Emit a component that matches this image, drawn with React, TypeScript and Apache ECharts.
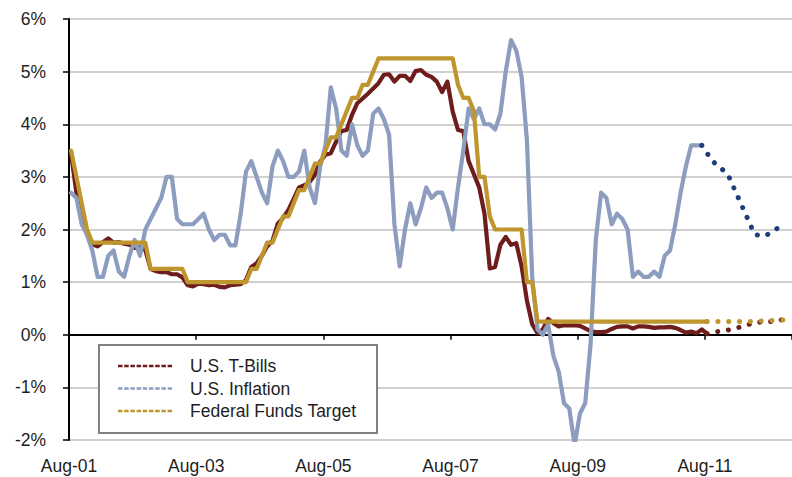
import React, { useEffect, useRef } from "react";
import * as echarts from "echarts";

// Monthly data, first value = Aug 2001 (month index 0)
const tickLabels = ["Aug-01", "Aug-03", "Aug-05", "Aug-07", "Aug-09", "Aug-11"];

const tBills = [
  3.44, 2.69, 2.2, 1.91, 1.72, // 2001 Aug-Dec
  1.68, 1.76, 1.83, 1.75, 1.76, 1.73, 1.71, 1.65, 1.66, 1.61, 1.25, 1.21, // 2002
  1.19, 1.19, 1.15, 1.15, 1.09, 0.94, 0.92, 0.97, 0.96, 0.94, 0.95, 0.91, // 2003
  0.9, 0.94, 0.95, 0.96, 1.04, 1.29, 1.36, 1.5, 1.68, 1.79, 2.11, 2.22, // 2004
  2.37, 2.58, 2.8, 2.84, 2.9, 3.04, 3.29, 3.42, 3.45, 3.67, 3.87, 3.89, // 2005
  4.18, 4.4, 4.49, 4.58, 4.68, 4.78, 4.94, 4.95, 4.81, 4.92, 4.92, 4.82, // 2006
  5.01, 5.03, 4.94, 4.9, 4.81, 4.61, 4.81, 4.24, 3.89, 3.87, 3.3, 3.05, // 2007
  2.8, 2.3, 1.26, 1.29, 1.71, 1.86, 1.71, 1.74, 1.3, 0.65, 0.2, 0.03, // 2008
  0.1, 0.3, 0.22, 0.16, 0.18, 0.18, 0.18, 0.17, 0.12, 0.07, 0.05, 0.05, // 2009
  0.06, 0.11, 0.15, 0.16, 0.16, 0.12, 0.16, 0.16, 0.15, 0.13, 0.14, 0.14, // 2010
  0.15, 0.13, 0.09, 0.04, 0.06, 0.03, 0.1, 0.02, // 2011 Jan-Aug
];

const inflation = [
  2.7, 2.6, 2.1, 1.9, 1.6, // 2001 Aug-Dec
  1.1, 1.1, 1.5, 1.6, 1.2, 1.1, 1.5, 1.8, 1.5, 2.0, 2.2, 2.4, // 2002
  2.6, 3.0, 3.0, 2.2, 2.1, 2.1, 2.1, 2.2, 2.3, 2.0, 1.8, 1.9, // 2003
  1.9, 1.7, 1.7, 2.3, 3.1, 3.3, 3.0, 2.7, 2.5, 3.2, 3.5, 3.3, // 2004
  3.0, 3.0, 3.1, 3.5, 2.8, 2.5, 3.2, 3.6, 4.7, 4.3, 3.5, 3.4, // 2005
  4.0, 3.6, 3.4, 3.5, 4.2, 4.3, 4.1, 3.8, 2.1, 1.3, 2.0, 2.5, // 2006
  2.1, 2.4, 2.8, 2.6, 2.7, 2.7, 2.4, 2.0, 2.8, 3.5, 4.3, 4.1, // 2007
  4.3, 4.0, 4.0, 3.9, 4.2, 5.0, 5.6, 5.4, 4.9, 3.7, 1.1, 0.1, // 2008
  0.0, 0.2, -0.4, -0.7, -1.3, -1.4, -2.1, -1.5, -1.3, -0.2, 1.8, 2.7, // 2009
  2.6, 2.1, 2.3, 2.2, 2.0, 1.1, 1.2, 1.1, 1.1, 1.2, 1.1, 1.5, // 2010
  1.6, 2.1, 2.7, 3.2, 3.6, 3.6, 3.6, // 2011 Jan-Jul
];

const fedFunds = [
  3.5, 3.0, 2.5, 2.0, 1.75, // 2001 Aug-Dec
  1.75, 1.75, 1.75, 1.75, 1.75, 1.75, 1.75, 1.75, 1.75, 1.75, 1.25, 1.25, // 2002
  1.25, 1.25, 1.25, 1.25, 1.25, 1.0, 1.0, 1.0, 1.0, 1.0, 1.0, 1.0, // 2003
  1.0, 1.0, 1.0, 1.0, 1.0, 1.25, 1.25, 1.5, 1.75, 1.75, 2.0, 2.25, // 2004
  2.25, 2.5, 2.75, 2.75, 3.0, 3.25, 3.25, 3.5, 3.75, 3.75, 4.0, 4.25, // 2005
  4.5, 4.5, 4.75, 4.75, 5.0, 5.25, 5.25, 5.25, 5.25, 5.25, 5.25, 5.25, // 2006
  5.25, 5.25, 5.25, 5.25, 5.25, 5.25, 5.25, 5.25, 4.75, 4.5, 4.5, 4.25, // 2007
  3.0, 3.0, 2.25, 2.0, 2.0, 2.0, 2.0, 2.0, 2.0, 1.0, 1.0, 0.25, // 2008
  0.25, 0.25, 0.25, 0.25, 0.25, 0.25, 0.25, 0.25, 0.25, 0.25, 0.25, 0.25, // 2009
  0.25, 0.25, 0.25, 0.25, 0.25, 0.25, 0.25, 0.25, 0.25, 0.25, 0.25, 0.25, // 2010
  0.25, 0.25, 0.25, 0.25, 0.25, 0.25, 0.25, 0.25, // 2011 Jan-Aug
];

// Forecasts (month index since Aug 2001, value)
const inflationFcMonths = [119, 121, 123, 124, 129, 131, 134.5];
const inflationFcValues = [3.6, 3.3, 3.13, 3.03, 1.9, 1.88, 2.1];
const tBillFcMonths = [120, 122, 124, 126, 128, 130, 132, 134.5];
const tBillFcValues = [0.02, 0.06, 0.09, 0.14, 0.2, 0.24, 0.25, 0.29];
const fedFcMonths = [120, 128, 134.5];
const fedFcValues = [0.25, 0.25, 0.28];

const seriesNames = ["U.S. T-Bills", "U.S. Inflation", "Federal Funds Target"];

const BROWN = "#6E1C1C";
const BLUE = "#8C9DBF";
const GOLD = "#BF952E";
const NAVY = "#1F3C7C";
const FONT = "'Liberation Sans', Arial, sans-serif";
const TEXT = "#1e1e1e";
const MONTH_OFFSET = 0.4; // observations dated mid-month
const X_MAX = 136.42;

const toPoints = (vals: number[]) => vals.map((v, i) => [i + MONTH_OFFSET, v]);
const toPairs = (months: number[], vals: number[]) => months.map((m, i) => [m + MONTH_OFFSET, vals[i]]);

export default function App() {
  const ref = useRef<HTMLDivElement>(null);
  useEffect(() => {
    if (!ref.current) return;
    const chart = echarts.init(ref.current, null, { renderer: "svg" });
    const solid = (color: string) => ({ color, width: 4.2, join: "round" as const, cap: "round" as const });
    const dotted = (color: string) => ({ color, width: 5, type: [0.1, 10.7], cap: "round" as const });
    const lineBase = { type: "line" as const, showSymbol: false, symbol: "none", smooth: false, xAxisIndex: 0, yAxisIndex: 0 };
    const legendRows = [BROWN, BLUE, GOLD];
    const legendGraphics: any[] = [
      { type: "rect", left: 98, top: 344, shape: { width: 278, height: 88 }, style: { fill: "#ffffff", stroke: "#808080", lineWidth: 2 }, z: 100 },
    ];
    legendRows.forEach((c, i) => {
      const y = 366 + i * 22.5;
      legendGraphics.push({ type: "line", shape: { x1: 118, y1: y, x2: 173, y2: y }, style: { stroke: c, lineWidth: 2.4, lineDash: [4.5, 1.7] }, z: 101 });
      legendGraphics.push({ type: "text", x: 190, y, style: { text: seriesNames[i], font: `17.5px ${FONT}`, fill: TEXT, textVerticalAlign: "middle", verticalAlign: "middle" }, z: 101 });
    });

    chart.setOption({
      animation: false,
      grid: { left: 69, right: 0, top: 19, bottom: 37, containLabel: false },
      xAxis: [
        {
          type: "value", min: 0, max: X_MAX, interval: 24, position: "bottom",
          axisLine: { show: false, onZero: false }, axisTick: { show: false }, splitLine: { show: false },
          axisLabel: {
            show: true, margin: 17, fontSize: 17.5, fontFamily: FONT, color: TEXT, showMaxLabel: false,
            formatter: (v: number) => (Math.abs(v % 24) < 1e-6 ? tickLabels[Math.round(v / 24)] ?? "" : ""),
          },
        },
        {
          type: "value", min: 0, max: X_MAX, interval: 24, position: "top",
          axisLine: { show: true, onZero: true, lineStyle: { color: "#000", width: 2 } },
          axisTick: { show: true, inside: true, length: 5, lineStyle: { color: "#000", width: 1.5 } },
          axisLabel: { show: false }, splitLine: { show: false },
        },
      ],
      yAxis: {
        type: "value", min: -2, max: 6, interval: 1,
        axisLine: { show: true, onZero: false, lineStyle: { color: "#000", width: 2 } },
        axisTick: { show: true, length: 6, lineStyle: { color: "#000", width: 1.5 } },
        axisLabel: { margin: 23, fontSize: 17.5, fontFamily: FONT, color: TEXT, formatter: (v: number) => `${v}%` },
        splitLine: { show: true, lineStyle: { color: "#C0C0C0", width: 1.5 } },
      },
      series: [
        { ...lineBase, name: seriesNames[0], data: toPoints(tBills), lineStyle: solid(BROWN), z: 3 },
        { ...lineBase, name: seriesNames[1], data: toPoints(inflation), lineStyle: solid(BLUE), z: 4 },
        { ...lineBase, name: seriesNames[2], data: toPoints(fedFunds), lineStyle: solid(GOLD), z: 5 },
        { ...lineBase, name: "T-Bills forecast", data: toPairs(tBillFcMonths, tBillFcValues), lineStyle: dotted(BROWN), z: 6 },
        { ...lineBase, name: "Fed forecast", data: toPairs(fedFcMonths, fedFcValues), lineStyle: dotted(GOLD), z: 6 },
        { ...lineBase, name: "Inflation forecast", data: toPairs(inflationFcMonths, inflationFcValues), lineStyle: dotted(NAVY), z: 6 },
      ],
      graphic: legendGraphics,
    });
    return () => chart.dispose();
  }, []);
  return <div ref={ref} style={{ position: "absolute", left: 0, top: 0, width: 792, height: 477, background: "#fff" }} />;
}
